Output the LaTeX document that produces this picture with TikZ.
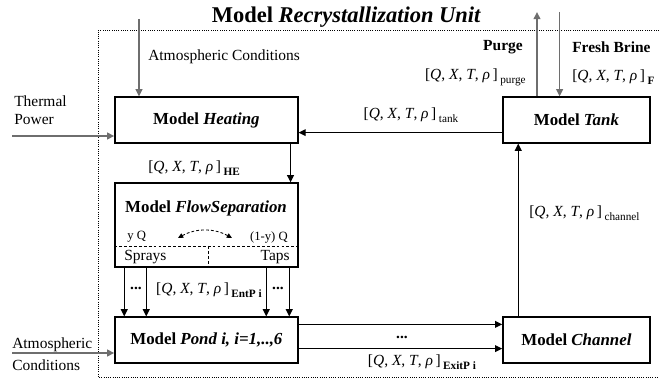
\documentclass[tikz,border=0pt]{standalone}
\usepackage{fontspec}
\setmainfont{Liberation Serif}
\definecolor{flowgray}{HTML}{6E6E6E}
\usetikzlibrary{arrows.meta}
\newcommand{\qxtr}[1]{[\textit{Q}, \textit{X}, \textit{T}, \textit{ρ}\,]\,\raisebox{-0.6ex}{\fontsize{8}{9}\selectfont #1}}

\begin{document}
\begin{tikzpicture}[
  model/.style={rectangle, draw, line width=0.9pt, minimum width=4.575cm,
                minimum height=1.15cm, font=\fontsize{12}{14}\selectfont\bfseries, inner sep=0pt},
  lbl/.style={font=\fontsize{11}{13}\selectfont, inner sep=0pt},
  blbl/.style={font=\fontsize{11}{13}\selectfont\bfseries, inner sep=0pt},
  small/.style={font=\fontsize{9}{11}\selectfont, inner sep=0pt},
  arr/.style={-{Triangle[length=1.8mm,width=1.7mm]}, line width=0.9pt},
  garr/.style={-{Triangle[length=1.8mm,width=1.7mm]}, line width=1.1pt, flowgray},
  sep/.style={dash pattern=on 2pt off 1.5pt, line width=0.6pt},
  frame/.style={densely dotted, line width=0.6pt},
]
\useasboundingbox (0,0) rectangle (16.475,9.55);

% unit frame and title
\draw[frame] (16.475,8.79) -- (2.45,8.79) -- (2.45,0.125) -- (16.475,0.125);
\node[font=\fontsize{16}{18}\selectfont\bfseries] (title) at (8.66,9.125) {Model \textit{Recrystallization Unit}};

% model blocks
\node[model] (heat) at (5.16,6.55) {Model \textit{Heating}};
\node[model, minimum height=2.1cm] (flow) at (5.16,3.925) {};
\node[model] (pond) at (5.16,1.05) {Model \textit{Pond i, i=1,..,6}};
\node[model, minimum width=3.675cm] (tank) at (14.41,6.55) {Model \textit{Tank}};
\node[model, minimum width=3.675cm] (chan) at (14.41,1.05) {Model \textit{Channel}};

% flow separation inside
\node[font=\fontsize{12}{14}\selectfont\bfseries] (ftitle) at (5.15,4.35) {Model \textit{FlowSeparation}};
\draw[sep] (flow.west |- 0,3.4) -- (flow.east |- 0,3.4);
\draw[sep] (5.2,3.4) -- (5.2,0 |- flow.south);
\node[small, anchor=west] (yq) at (3.175,3.625) {y Q};
\node[small, anchor=east] (oyq) at (7.2,3.625) {(1-y) Q};
\coordinate (splitL) at (4.45,3.6);
\coordinate (splitR) at (5.8,3.6);
\draw[sep, {Triangle[length=1.3mm,width=1.2mm]}-{Triangle[length=1.3mm,width=1.2mm]}]
  (splitL) .. controls (4.9,3.85) and (5.35,3.85) .. (splitR);
\node[lbl, anchor=west] (spr) at (3.1,3.125) {Sprays};
\node[lbl, anchor=east] (taps) at (7.25,3.125) {Taps};

% outer inputs
\coordinate (atm1) at (3.475,9.075);
\draw[garr] (atm1) -- (atm1 |- heat.north);
\node[lbl, anchor=west] (atmtxt) at (3.7,8.125) {Atmospheric Conditions};
\coordinate (thp) at (0.3,6.15);
\draw[garr] (thp) -- (thp -| heat.west);
\node[lbl, anchor=west, align=left] (thptxt) at (0.35,6.8) {Thermal\\Power};
\coordinate (atm2) at (0.3,0.725);
\draw[garr] (atm2) -- (atm2 -| pond.west);
\node[lbl, anchor=west, align=left] (atm2txt) at (0.3,0.7) {Atmospheric\\[3pt]Conditions};
\coordinate (purge) at (13.425,9.25);
\draw[garr] (purge |- tank.north) -- (purge);
\coordinate (brine) at (13.99,9.25);
\draw[garr] (brine) -- (brine |- tank.north);
\node[blbl, anchor=east] (pgtxt) at (13.075,8.375) {Purge};
\node[lbl, anchor=east] (pgq) at (13.15,7.625) {\qxtr{purge}};
\node[blbl, anchor=west] (fbtxt) at (14.3,8.375) {Fresh Brine};
\node[lbl, anchor=west] (fbq) at (14.3,7.625) {\qxtr{\bfseries F}};

% internal streams
\draw[arr] ([yshift=0.275cm]tank.south west) -- ([yshift=0.275cm]heat.south east);
\node[lbl] (tankq) at (10.275,6.675) {\qxtr{tank}};
\draw[arr] ([xshift=-0.2cm]heat.south east) -- ([xshift=-0.2cm]flow.north east);
\node[lbl, anchor=west] (heq) at (3.7,5.35) {\qxtr{\bfseries HE}};
\foreach \dx in {0.25,0.8,3.8,4.375}
  \draw[arr] ([xshift=\dx cm]flow.south west) -- ([xshift=\dx cm]pond.north west);
\node[blbl] (dots1) at (3.4,2.33) {...};
\node[blbl] (dots2) at (6.95,2.33) {...};
\node[lbl] (entq) at (5.225,2.3) {\qxtr{\bfseries EntP i}};
\draw[arr] ([yshift=-0.2cm]pond.north east) -- ([yshift=-0.2cm]chan.north west);
\draw[arr] ([yshift=0.375cm]pond.south east) -- ([yshift=0.375cm]chan.south west);
\node[blbl] (dots3) at (10.05,1.12) {...};
\node[lbl] (exitq) at (10.55,0.5) {\qxtr{\bfseries ExitP i}};
\draw[arr] ([xshift=0.4cm]chan.north west) -- ([xshift=0.4cm]tank.south west);
\node[lbl, anchor=west] (chq) at (13.225,4.225) {\qxtr{channel}};
\end{tikzpicture}
\end{document}
